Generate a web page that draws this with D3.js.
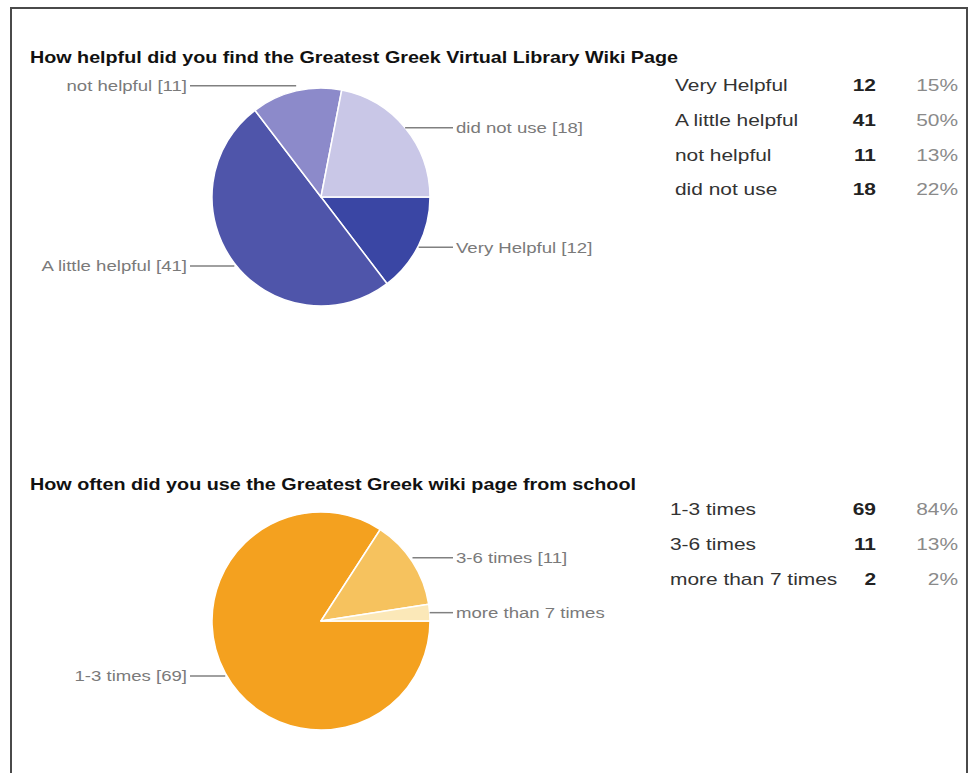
<!DOCTYPE html>
<html>
<head>
<meta charset="utf-8">
<script src="https://cdn.jsdelivr.net/npm/d3@7"></script>
<style>
  html, body { margin: 0; padding: 0; background: #fff; }
  svg { display: block; font-family: "Liberation Sans", Arial, sans-serif; }
</style>
</head>
<body>
<svg id="chart" width="975" height="773"></svg>
<script>
// Survey question 1
const helpTitle = "How helpful did you find the Greatest Greek Virtual Library Wiki Page";
const helpCategories = ["Very Helpful", "A little helpful", "not helpful", "did not use"];
const helpCounts = [12, 41, 11, 18];
const helpSliceLabels = ["Very Helpful [12]", "A little helpful [41]", "not helpful [11]", "did not use [18]"];
const helpColors = ["#3a46a4", "#4f55aa", "#8c8aca", "#c9c7e7"];

// Survey question 2
const useTitle = "How often did you use the Greatest Greek wiki page from school";
const useCategories = ["1-3 times", "3-6 times", "more than 7 times"];
const useCounts = [69, 11, 2];
const useSliceLabels = ["1-3 times [69]", "3-6 times [11]", "more than 7 times"];
const useColors = ["#f4a11f", "#f6c25e", "#fbe8b8"];

const svg = d3.select("#chart");

// Frame around the page
svg.append("path")
  .attr("d", "M11,773 V8 H967 V773")
  .attr("fill", "none")
  .attr("stroke", "#4a4a4a")
  .attr("stroke-width", 2);

// Text drawn with a horizontal stretch about its anchor point
function wideText(parent, x, y, str, opts) {
  const t = parent.append("g")
    .attr("transform", `translate(${x},${y}) scale(${opts.sx},1)`)
    .append("text")
    .attr("dy", "0.35em")
    .attr("text-anchor", opts.anchor || "start")
    .attr("font-size", opts.size)
    .attr("fill", opts.fill)
    .text(str);
  if (opts.bold) t.attr("font-weight", "bold");
  return t;
}

function drawBlock(cfg) {
  const g = svg.append("g");
  const total = d3.sum(cfg.counts);
  const data = cfg.categories.map((c, i) => ({
    name: c, value: cfg.counts[i], label: cfg.labels[i], color: cfg.colors[i]
  }));

  // Title
  g.append("text")
    .attr("x", 30).attr("y", cfg.titleY)
    .attr("font-size", 17).attr("font-weight", "bold").attr("fill", "#111")
    .attr("textLength", cfg.titleWidth).attr("lengthAdjust", "spacingAndGlyphs")
    .text(cfg.title);

  // Pie: first slice starts at 3 o'clock, going clockwise
  const r = 109;
  const pie = d3.pie().sort(null).value(d => d.value)
    .startAngle(Math.PI / 2).endAngle(Math.PI / 2 + 2 * Math.PI);
  const arc = d3.arc().innerRadius(0).outerRadius(r);
  const arcs = pie(data);

  const pg = g.append("g").attr("transform", `translate(${cfg.cx},${cfg.cy})`);
  pg.selectAll("path").data(arcs).join("path")
    .attr("d", arc)
    .attr("fill", d => d.data.color)
    .attr("stroke", "#fff")
    .attr("stroke-width", 1.5)
    .attr("stroke-linejoin", "round");

  // Slice labels with horizontal leader lines
  arcs.forEach((a, i) => {
    const mid = (a.startAngle + a.endAngle) / 2;
    const px = cfg.cx + r * Math.sin(mid);
    const py = cfg.cy - r * Math.cos(mid) + (cfg.labelDy[i] || 0);
    const right = Math.sin(mid) > 0;
    const x2 = right ? 453 : 190;
    g.append("line")
      .attr("x1", px).attr("y1", py).attr("x2", x2).attr("y2", py)
      .attr("stroke", "#808080").attr("stroke-width", 1.5);
    wideText(g, right ? x2 + 3 : x2 - 3, py, a.data.label, {
      sx: 1.24, size: 15, fill: "#7a7a7a", anchor: right ? "start" : "end"
    });
  });

  // Summary table: name, count, percent
  const rowY = d3.scaleBand().domain(d3.range(data.length))
    .range([cfg.tableY, cfg.tableY + 34.7 * data.length]);
  data.forEach((d, i) => {
    const y = rowY(i) + rowY.bandwidth() / 2;
    wideText(g, cfg.tableX, y, d.name, { sx: 1.23, size: 17, fill: "#333" });
    wideText(g, 876, y, d.value, { sx: 1.23, size: 17, fill: "#222", anchor: "end", bold: true });
    wideText(g, 958, y, d3.format(".0%")(d.value / total), {
      sx: 1.23, size: 17, fill: "#8a8a8a", anchor: "end"
    });
  });
}

drawBlock({
  title: helpTitle, titleY: 63, titleWidth: 648,
  categories: helpCategories, counts: helpCounts, labels: helpSliceLabels, colors: helpColors,
  cx: 321, cy: 197, labelDy: [2, 3, -5, 0],
  tableX: 675, tableY: 68
});

drawBlock({
  title: useTitle, titleY: 490, titleWidth: 606,
  categories: useCategories, counts: useCounts, labels: useSliceLabels, colors: useColors,
  cx: 321, cy: 621, labelDy: [3, -4, 0],
  tableX: 670, tableY: 492
});
</script>
</body>
</html>
